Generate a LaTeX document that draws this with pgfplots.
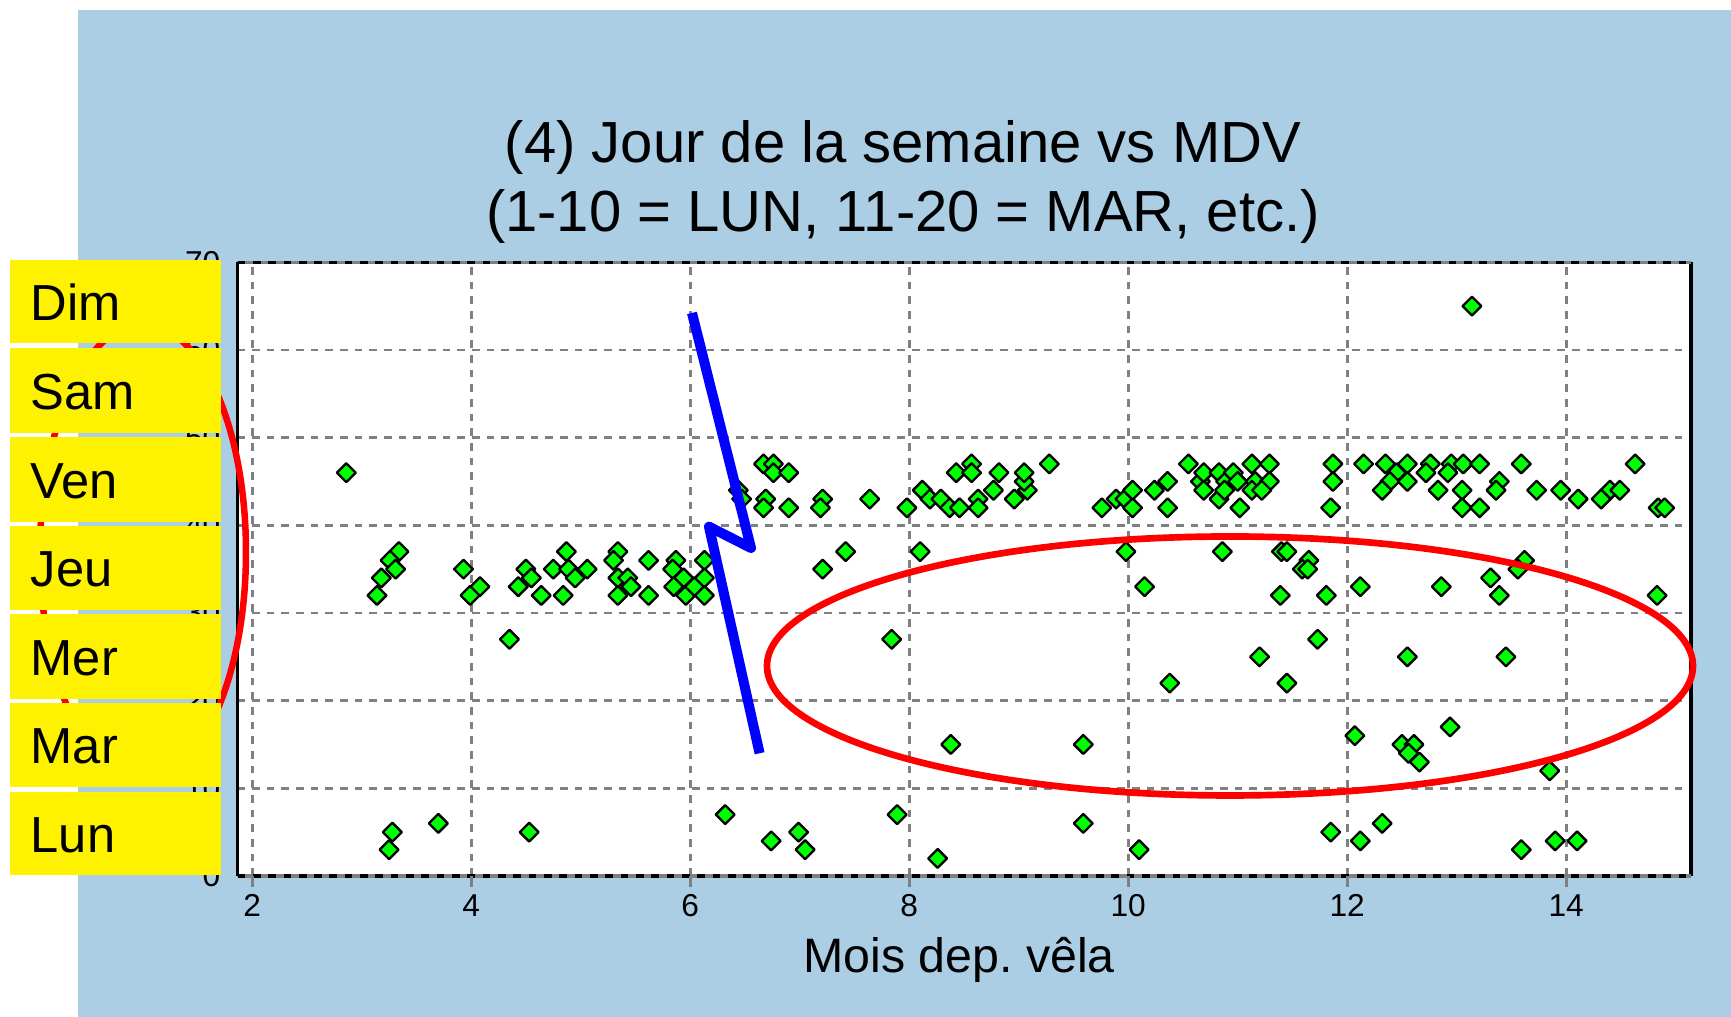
\documentclass[border=0pt]{standalone}
\usepackage{pgfplots}
\pgfplotsset{compat=1.18}
\usepackage{fontspec}
\setmainfont{Liberation Sans}
\definecolor{bgblue}{RGB}{171,206,229}
\definecolor{ptgreen}{RGB}{0,255,0}
\definecolor{gridgray}{RGB}{128,128,128}
\begin{document}
\frenchspacing
\begin{tikzpicture}[x=0.3pt,y=0.3pt]
% canvas
\fill[white] (0,0) rectangle (1731,1017);
\fill[bgblue] (78,0) rectangle (1731,1007);
\begin{axis}[
  at={(71.25pt,42.3pt)}, anchor=south west,
  scale only axis, width=436.05pt, height=184.11pt,
  xmin=1.866, xmax=15.14, ymin=0, ymax=70,
  xtick={2,4,...,14}, ytick={0,10,...,70},
  grid=major,
  major grid style={gridgray, line width=0.85pt, dash pattern=on 2.3pt off 2.1pt},
  axis line style={draw=none},
  major tick length=0pt,
  tick label style={font=\fontsize{9.5}{11}\selectfont, inner sep=0pt},
  /pgf/number format/assume math mode=true,
  xticklabel style={anchor=base, yshift=-12.3pt},
  yticklabel style={anchor=east, xshift=-4.95pt},
  axis background/.style={fill=white},
]
\addplot[only marks, mark=square*, mark size=2.0pt,
  mark options={rotate=45, fill=ptgreen, draw=black, line width=0.7pt, line join=round}]
  table {
x y
2.86 46
3.34 37
3.26 36
3.31 35
3.18 34
3.14 32
3.93 35
4.08 33
3.99 32
4.50 35
4.55 34
4.43 33
4.64 32
4.84 32
4.87 37
4.75 35
4.89 35
5.06 35
4.95 34
5.34 37
5.30 36
5.34 34
5.43 34
5.46 33
5.34 32
5.62 36
5.62 32
5.87 36
5.84 35
5.94 34
5.85 33
5.96 32
6.04 33
6.13 36
6.13 34
6.13 32
7.42 37
7.21 35
8.10 37
9.98 37
10.15 33
10.86 37
11.40 37
11.45 37
11.65 36
11.59 35
11.64 35
13.62 36
13.56 35
13.31 34
12.12 33
12.86 33
13.39 32
14.83 32
11.39 32
11.81 32
6.44 44
6.47 43
6.67 47
6.76 47
6.76 46
6.90 46
6.69 43
6.67 42
6.90 42
7.21 43
7.19 42
7.64 43
7.98 42
8.12 44
8.19 43
8.29 43
8.37 42
8.46 42
8.63 43
8.63 42
8.77 44
8.96 43
9.08 44
9.05 45
9.05 46
8.43 46
8.57 47
8.57 46
8.82 46
9.28 47
9.76 42
9.89 43
9.97 43
10.04 44
10.04 42
10.24 44
10.36 45
10.36 42
10.55 47
10.66 45
10.69 46
10.69 44
10.83 46
10.89 45
10.83 43
10.96 46
11.00 45
10.88 44
11.02 42
11.13 47
11.29 47
11.16 45
11.29 45
11.13 44
11.22 44
11.87 47
11.87 45
11.85 42
12.15 47
12.35 47
12.55 47
12.76 47
12.95 47
13.06 47
13.21 47
13.59 47
14.63 47
12.45 46
12.72 46
12.92 46
12.39 45
12.55 45
13.39 45
12.32 44
12.83 44
13.05 44
13.36 44
13.73 44
13.95 44
14.40 44
14.49 44
14.11 43
14.32 43
13.05 42
13.21 42
14.84 42
14.90 42
13.14 65
4.35 27
7.84 27
11.73 27
11.20 25
12.55 25
13.45 25
10.38 22
11.45 22
8.38 15
9.59 15
12.07 16
12.50 15
12.61 15
12.56 14
12.66 13
12.94 17
13.85 12
3.28 5
3.25 3
3.70 6
4.53 5
6.32 7
6.74 4
6.99 5
7.05 3
7.89 7
8.26 2
9.59 6
10.10 3
11.85 5
12.12 4
12.32 6
13.59 3
13.90 4
14.10 4
};
\end{axis}
% borders
\draw[black, line width=1pt] (237.5,141) -- (237.5,754.7);
\draw[black, line width=1pt] (1691,141) -- (1691,754.7);
\draw[gridgray, line width=1pt] (237.5,141) -- (1691,141);
\draw[black, line width=1pt, dash pattern=on 2.3pt off 2.3pt] (237.5,141) -- (1691,141);
\draw[gridgray, line width=1pt] (237.5,754.7) -- (1691,754.7);
\draw[black, line width=1pt, dash pattern=on 2.3pt off 2.3pt] (237.5,754.7) -- (1691,754.7);
\foreach \t in {0,...,6} {
  \draw[gridgray, line width=0.85pt] ({252.2+219*\t},141) -- ++(0,-11);
}
% annotations
\draw[red, line width=2pt] (1230,351) ellipse [x radius=138.9pt, y radius=38.85pt];
\draw[blue, line width=3pt, line join=round] (692,704) -- (751,469) -- (709,490.3) -- (759.6,263.7);
\draw[red, line width=1.95pt] (143,465) ellipse [x radius=30.9pt, y radius=68.4pt];
% yellow boxes
\fill[yellow] (10,674) rectangle (221,757);
\fill[yellow] (10,584) rectangle (221,669);
\fill[yellow] (10,495) rectangle (221,580);
\fill[yellow] (10,407) rectangle (221,491);
\fill[yellow] (10,318) rectangle (221,403);
\fill[yellow] (10,230) rectangle (221,314);
\fill[yellow] (10,142) rectangle (221,225);
\begin{scope}[every node/.style={anchor=base west, inner sep=0pt, font=\fontsize{15.2}{18}\selectfont}]
\node at (30,696.8) {Dim};
\node at (30,607.8) {Sam};
\node at (30,518.8) {Ven};
\node at (30,430.3) {Jeu};
\node at (30,341.8) {Mer};
\node at (30,253.3) {Mar};
\node at (30,164.8) {Lun};
\end{scope}
% title and x label
\node[anchor=base, inner sep=0pt, font=\fontsize{17.4}{20}\selectfont] at (903,854) {(4) Jour de la semaine vs MDV};
\node[anchor=base, inner sep=0pt, font=\fontsize{17.4}{20}\selectfont] at (903,785) {(1-10 = LUN, 11-20 = MAR, etc.)};
\node[anchor=base, inner sep=0pt, font=\fontsize{14.5}{17}\selectfont] at (959,44) {Mois dep. vêla};
\end{tikzpicture}
\end{document}
